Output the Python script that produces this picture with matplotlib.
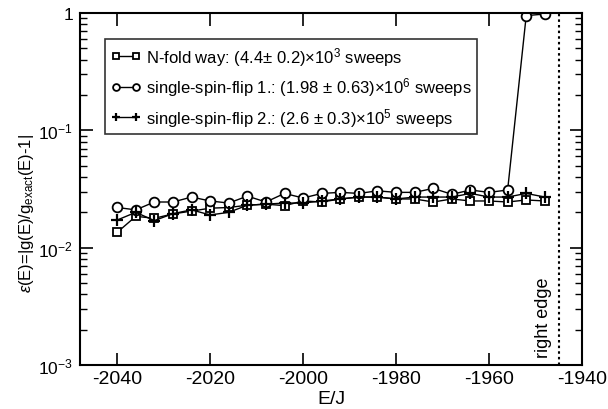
import matplotlib
matplotlib.use("Agg")
import matplotlib.pyplot as plt
from matplotlib.ticker import FixedLocator, LogLocator, NullFormatter, FuncFormatter
import numpy as np

plt.rcParams['font.family'] = ['Liberation Sans', 'DejaVu Sans']
plt.rcParams['mathtext.fontset'] = 'custom'
plt.rcParams['mathtext.rm'] = 'Liberation Sans'
plt.rcParams['mathtext.it'] = 'Liberation Sans:italic'

energy = [-2040, -2036, -2032, -2028, -2024, -2020, -2016, -2012, -2008, -2004,
          -2000, -1996, -1992, -1988, -1984, -1980, -1976, -1972, -1968, -1964,
          -1960, -1956, -1952, -1948]
nfold = [0.0135, 0.0185, 0.0178, 0.0194, 0.0205, 0.0217, 0.022, 0.023, 0.0235, 0.0228,
         0.025, 0.0245, 0.026, 0.027, 0.027, 0.026, 0.026, 0.0245, 0.026, 0.025,
         0.025, 0.0245, 0.0255, 0.025]
ssf1 = [0.022, 0.021, 0.0245, 0.0245, 0.027, 0.025, 0.024, 0.0275, 0.0245, 0.029,
        0.0265, 0.029, 0.0296, 0.029, 0.0305, 0.0296, 0.0296, 0.032, 0.0285, 0.031,
        0.0296, 0.031, 0.95, 0.98]
ssf2 = [0.0172, 0.020, 0.017, 0.0195, 0.021, 0.019, 0.020, 0.023, 0.0235, 0.024,
        0.024, 0.025, 0.026, 0.027, 0.027, 0.026, 0.027, 0.027, 0.027, 0.029,
        0.027, 0.027, 0.029, 0.027]
labels = [r"N-fold way: (4.4$\pm$ 0.2)$\times$10$^{3}$ sweeps",
          r"single-spin-flip 1.: (1.98 $\pm$ 0.63)$\times$10$^{6}$ sweeps",
          r"single-spin-flip 2.: (2.6 $\pm$ 0.3)$\times$10$^{5}$ sweeps"]
right_edge = -1945
xticks = [-2040, -2020, -2000, -1980, -1960, -1940]

fig = plt.figure(figsize=(6.08, 4.10), dpi=100)
ax = fig.add_axes([80/608, 44/410, 502/608, 352/410])

ax.plot(energy, nfold, color='black', lw=1, marker='s', ms=6, mfc='white', mec='black', mew=1.3, label=labels[0])
ax.plot(energy, ssf1, color='black', lw=1, marker='o', ms=7, mfc='white', mec='black', mew=1.3, label=labels[1])
ax.plot(energy, ssf2, color='black', lw=1, marker='+', ms=8, mec='black', mew=1.6, label=labels[2])

ax.axvline(right_edge, color='black', ls=(0, (1.2, 1.5)), lw=1.5)
ax.text(right_edge - 1.5, 0.0026, 'right edge', rotation=90, ha='right', va='center', fontsize=13)

ax.set_yscale('log')
ax.set_xlim(-2048, -1940)
ax.set_ylim(1e-3, 1)
ax.xaxis.set_major_locator(FixedLocator(xticks))
ax.xaxis.set_major_formatter(FuncFormatter(lambda v, p: f"{int(v)}"))
ax.yaxis.set_major_locator(LogLocator(base=10, numticks=10))
ax.yaxis.set_minor_locator(LogLocator(base=10, subs=np.arange(2, 10), numticks=20))
ax.yaxis.set_minor_formatter(NullFormatter())

def yfmt(v, p):
    e = int(round(np.log10(v)))
    if e == 0:
        return '1'
    return r'10$^{\mathregular{%d}}$' % e
ax.yaxis.set_major_formatter(FuncFormatter(yfmt))

ax.tick_params(which='both', direction='in', top=True, right=True)
ax.tick_params(axis='x', labelsize=14)
ax.tick_params(axis='y', labelsize=12.5, pad=5)
ax.tick_params(which='major', length=9, width=1.2)
ax.tick_params(which='minor', length=5, width=1.0)
for s in ax.spines.values():
    s.set_linewidth(1.5)

ax.set_xlabel('E/J', fontsize=14, labelpad=2)
fig.text(27/608, 1 - 213/410, r'$\epsilon$(E)=|g(E)/g$_{\mathregular{exact}}$(E)-1|',
         rotation=90, ha='center', va='center', fontsize=12)

leg = ax.legend(loc='upper left', bbox_to_anchor=(25/502, 1 - 26/352), fontsize=12, frameon=True,
                fancybox=False, edgecolor='black', handlelength=1.8, handletextpad=0.3,
                borderpad=0.35, labelspacing=0.45, numpoints=2, markerscale=0.7,
                borderaxespad=0)
leg.get_frame().set_linewidth(1.2)

fig.savefig('out.png', dpi=100)
